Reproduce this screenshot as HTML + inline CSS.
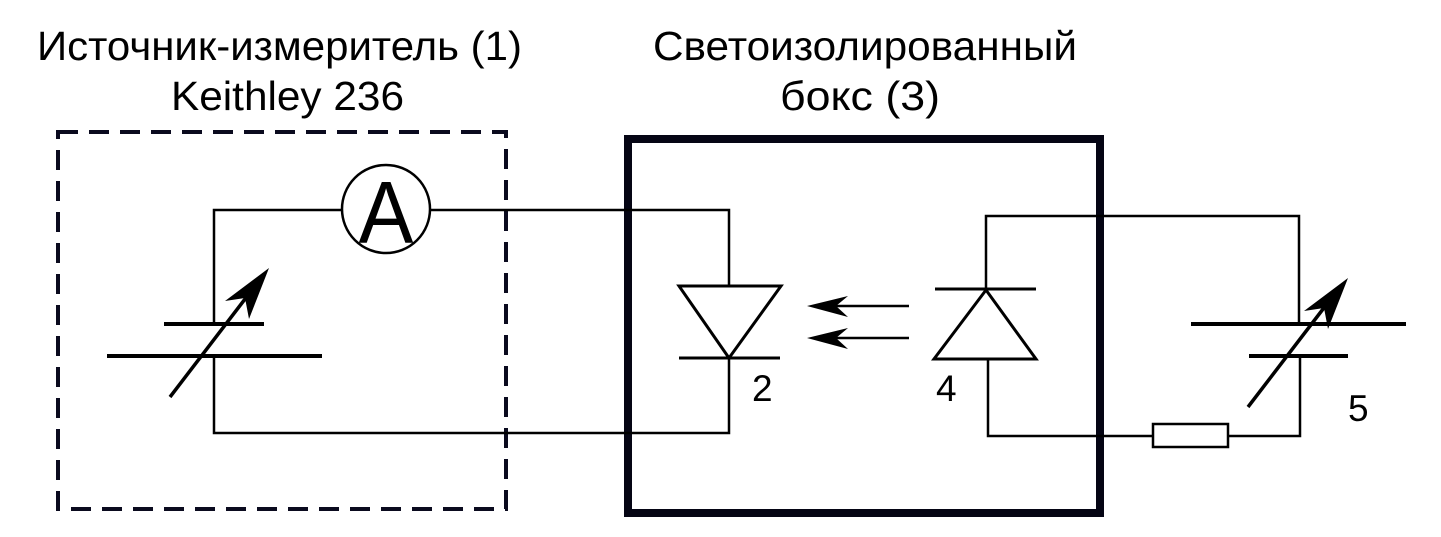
<!DOCTYPE html>
<html><head><meta charset="utf-8"><style>html,body{margin:0;padding:0;background:#fff}svg{display:block}</style></head>
<body>
<svg width="1441" height="537" viewBox="0 0 1441 537" xmlns="http://www.w3.org/2000/svg">
<g font-family="Liberation Sans, sans-serif" font-size="41" fill="#000">
<text x="37" y="60" textLength="485" lengthAdjust="spacingAndGlyphs">Источник-измеритель (1)</text>
<text x="171" y="110" textLength="233" lengthAdjust="spacingAndGlyphs">Keithley 236</text>
<text x="653" y="60" textLength="424" lengthAdjust="spacingAndGlyphs">Светоизолированный</text>
<text x="780" y="110" textLength="160" lengthAdjust="spacingAndGlyphs">бокс (3)</text>
<text x="752" y="401" font-size="37">2</text>
<text x="936" y="401" font-size="37">4</text>
<text x="1348" y="421" font-size="37">5</text>
</g>
<g fill="none" stroke="#000">
<rect x="58" y="132" width="448" height="377" stroke="#0a0a1e" stroke-width="4" stroke-dasharray="20,11"/>
<rect x="628" y="139" width="472" height="374" stroke="#050514" stroke-width="8"/>
<g stroke-width="2.5">
<polyline points="214,324 214,210 342,210"/>
<polyline points="430,210 729,210 729,286"/>
<polyline points="214,356 214,433 729,433 729,358"/>
<circle cx="386" cy="209" r="44"/>
<polygon points="679,286 781,286 729,358" stroke-width="3"/>
<line x1="679" y1="358" x2="780" y2="358" stroke-width="3"/>
<line x1="909" y1="306" x2="830" y2="306"/>
<line x1="909" y1="338" x2="830" y2="338"/>
<polyline points="986,289 986,216 1299,216 1299,324"/>
<line x1="935" y1="289" x2="1036" y2="289" stroke-width="3"/>
<polygon points="986,290 1036,359 934,359" stroke-width="3"/>
<polyline points="988,359 988,436 1153,436"/>
<polyline points="1228,436 1300,436 1300,356"/>
<rect x="1153" y="424" width="75" height="23"/>
</g>
<g stroke-width="4">
<line x1="164" y1="324" x2="264" y2="324"/>
<line x1="107" y1="356" x2="322" y2="356"/>
<line x1="1191" y1="324" x2="1406" y2="324"/>
<line x1="1249" y1="356" x2="1348" y2="356"/>
</g>
<g stroke-width="3.5">
<line x1="170" y1="397" x2="255" y2="286"/>
<line x1="1248" y1="407" x2="1333" y2="296"/>
</g>
</g>
<g fill="#000">
<text x="386" y="243" font-family="Liberation Sans, sans-serif" font-size="82" text-anchor="middle" transform="translate(386,0) scale(1,1.08) translate(-386,-18)">A</text>
<polygon points="269,268 225,301 245,298 249,319"/>
<polygon points="1348,278 1304,311 1324,308 1328,329"/>
<polygon points="807,306 848,296 836,306 848,317"/>
<polygon points="807,338 848,328 836,338 848,349"/>
</g>
</svg>
</body></html>
